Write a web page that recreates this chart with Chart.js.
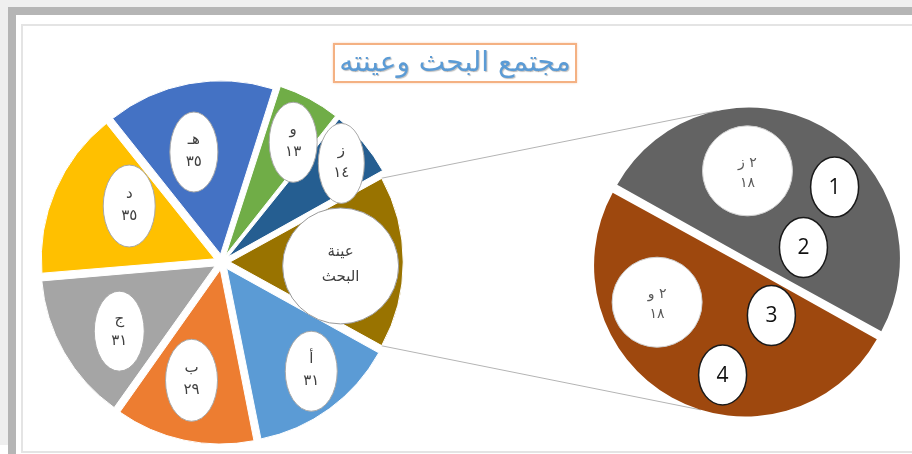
<!DOCTYPE html>
<html lang="ar">
<head>
<meta charset="utf-8">
<script src="https://cdn.jsdelivr.net/npm/chart.js@4.4.0/dist/chart.umd.min.js"></script>
<style>
  html, body { margin:0; padding:0; width:912px; height:454px; overflow:hidden; background:#efefef; position:relative; }
  #frame { position:absolute; left:8px; top:7px; width:904px; height:447px; background:#b5b5b5; }
  #white { position:absolute; left:16px; top:15px; width:896px; height:439px; background:#ffffff; }
  #patch { position:absolute; left:0; top:445px; width:8px; height:9px; background:#ffffff; }
  #area { position:absolute; left:21px; top:24px; width:920px; height:425px; border:2px solid #e4e4e4; background:#fff; }
  #title { position:absolute; left:333px; top:43px; width:240px; height:36px; border:2px solid #f4b183;
           background:#fff; box-shadow:0 0 2px rgba(244,177,131,0.6);
           font-family:"DejaVu Sans", sans-serif; font-size:28px; line-height:34px; text-align:center;
           color:#5b9bd5; direction:rtl; text-shadow:1px 1px 1px rgba(0,0,0,0.25); z-index:5; white-space:nowrap; }
  #leftCanvas { position:absolute; left:21px; top:24px; z-index:2; }
  #rightCanvas { position:absolute; left:577px; top:92px; z-index:3; }
</style>
</head>
<body>
<div id="frame"></div>
<div id="white"></div>
<div id="patch"></div>
<div id="area"></div>
<canvas id="leftCanvas" width="891" height="428"></canvas>
<canvas id="rightCanvas" width="340" height="340"></canvas>
<div id="title">مجتمع البحث وعينته</div>
<script>
// ---------------- DATA ----------------
const categories = ['أ', 'ب', 'ج', 'د', 'هـ', 'و', 'ز'];
const values = [31, 29, 31, 35, 35, 13, 14];
const sampleName = ['عينة', 'البحث'];
const sampleCategories = ['٢ ز', '٢ و'];
const sampleValues = [18, 18];
const markerLabels = ['1', '2', '3', '4'];

// ---------------- STYLE ----------------
const leftColors = ['#5B9BD5', '#ED7D31', '#A5A5A5', '#FFC000', '#4472C4', '#70AD47', '#255E91', '#997300'];
const rightColors = ['#636363', '#9E480E'];
// label placement: angle shift (deg) from slice mid-angle and distance as a fraction of radius
const leftLabelShift = [-3.1, 2.4, -4.2, 7.8, -3.9, 2.6, 0.6, 1.9];
const leftLabelFrac  = [0.82, 0.71, 0.72, 0.63, 0.66, 0.81, 0.90, 0.69];
const leftLabelSize  = [[26, 40], [26, 41], [25, 40], [26, 41], [24, 40], [24, 40], [23, 40], [58, 58]];
const rightLabelShift = [-28.7, 36.9];
const rightLabelFrac  = [0.62, 0.67];
const markerPos = [[0.596, -0.51], [0.384, -0.099], [0.166, 0.364], [-0.166, 0.768]];
const connectorAngles = [258, 107];

const toArabicDigits = n => String(n).replace(/\d/g, d => '٠١٢٣٤٥٦٧٨٩'[+d]);
const sum = a => a.reduce((s, v) => s + v, 0);
const rad = d => d * Math.PI / 180;

function arcGeom(arc) {
  const p = arc.getProps(['x', 'y', 'startAngle', 'endAngle', 'outerRadius', 'circumference'], true);
  const off = (arc.options.offset || 0) / 4;
  const mid = (p.startAngle + p.endAngle) / 2;
  const fix = 1 - Math.sin(Math.min(Math.PI, p.circumference || 0));
  return { x: p.x, y: p.y, R: p.outerRadius, cx: p.x + Math.cos(mid) * off, cy: p.y + Math.sin(mid) * off,
           r: p.outerRadius + off * fix, start: p.startAngle, end: p.endAngle, mid };
}

function ellipseLabel(ctx, x, y, rx, ry, lines, o) {
  ctx.save();
  ctx.beginPath();
  ctx.ellipse(x, y, rx, ry, 0, 0, Math.PI * 2);
  ctx.fillStyle = '#ffffff';
  ctx.fill();
  if (o.borderWidth) {
    ctx.lineWidth = o.borderWidth;
    ctx.strokeStyle = o.borderColor;
    ctx.stroke();
  }
  ctx.fillStyle = o.color;
  ctx.font = o.font;
  ctx.textAlign = 'center';
  ctx.textBaseline = 'middle';
  ctx.direction = 'rtl';
  lines.forEach((t, i) => ctx.fillText(t, x, y + (i - (lines.length - 1) / 2) * o.lineHeight + o.dy));
  ctx.restore();
}

// ---------------- RIGHT PIE (sample) ----------------
const rightLabelPlugin = {
  id: 'rightLabels',
  afterDatasetsDraw(chart) {
    const ctx = chart.ctx;
    const arcs = chart.getDatasetMeta(0).data;
    arcs.forEach((arc, i) => {
      const g = arcGeom(arc);
      const a = g.mid + rad(rightLabelShift[i]);
      const x = g.x + Math.cos(a) * g.R * rightLabelFrac[i];
      const y = g.y + Math.sin(a) * g.R * rightLabelFrac[i];
      ellipseLabel(ctx, x, y, 45, 45, [sampleCategories[i], toArabicDigits(sampleValues[i])],
        { borderWidth: 1, borderColor: '#d0d0d0', color: '#595959', font: '14px "DejaVu Sans"', lineHeight: 20, dy: 2 });
    });
    const g0 = arcGeom(arcs[0]);
    markerLabels.forEach((t, i) => {
      const x = g0.x + markerPos[i][0] * g0.R;
      const y = g0.y + markerPos[i][1] * g0.R;
      ctx.save();
      ctx.beginPath();
      ctx.ellipse(x, y, 24, 30, 0, 0, Math.PI * 2);
      ctx.fillStyle = '#fff';
      ctx.fill();
      ctx.lineWidth = 1.5;
      ctx.strokeStyle = '#1a1a1a';
      ctx.stroke();
      ctx.fillStyle = '#111';
      ctx.font = '21px "Open Sans"';
      ctx.textAlign = 'center';
      ctx.textBaseline = 'middle';
      ctx.fillText(t, x, y + 1);
      ctx.restore();
    });
  }
};

const rightChart = new Chart(document.getElementById('rightCanvas'), {
  type: 'pie',
  data: {
    labels: sampleCategories,
    datasets: [{ data: sampleValues, backgroundColor: rightColors, borderWidth: 0, offset: 16 }]
  },
  options: {
    responsive: false, animation: false, events: [],
    radius: 147, rotation: 299,
    plugins: { legend: { display: false }, title: { display: false }, tooltip: { enabled: false } }
  },
  plugins: [rightLabelPlugin]
});

// ---------------- LEFT PIE (population) ----------------
const leftData = values.concat([sum(sampleValues)]);
const leftLabels = categories.concat([sampleName.join(' ')]);
const grand = sum(leftData);

const leftPlugin = {
  id: 'leftDecor',
  beforeDatasetsDraw(chart) {
    // connector lines to the second pie
    const ctx = chart.ctx;
    const arcs = chart.getDatasetMeta(0).data;
    const s = arcGeom(arcs[arcs.length - 1]);
    const lc = chart.canvas, rc = rightChart.canvas;
    const dx = rc.offsetLeft - lc.offsetLeft, dy = rc.offsetTop - lc.offsetTop;
    const rArcs = rightChart.getDatasetMeta(0).data;
    const top = arcGeom(rArcs[0]), bot = arcGeom(rArcs[1]);
    const p1 = [s.cx + s.r * Math.cos(s.start), s.cy + s.r * Math.sin(s.start)];
    const p2 = [s.cx + s.r * Math.cos(s.end), s.cy + s.r * Math.sin(s.end)];
    const q1 = [dx + top.cx + top.r * Math.cos(rad(connectorAngles[0])), dy + top.cy + top.r * Math.sin(rad(connectorAngles[0]))];
    const q2 = [dx + bot.cx + bot.r * Math.cos(rad(connectorAngles[1])), dy + bot.cy + bot.r * Math.sin(rad(connectorAngles[1]))];
    ctx.save();
    ctx.strokeStyle = '#b4b4b4';
    ctx.lineWidth = 1;
    ctx.beginPath();
    ctx.moveTo(p1[0], p1[1]); ctx.lineTo(q1[0], q1[1]);
    ctx.moveTo(p2[0], p2[1]); ctx.lineTo(q2[0], q2[1]);
    ctx.stroke();
    ctx.restore();
  },
  afterDatasetsDraw(chart) {
    const ctx = chart.ctx;
    const arcs = chart.getDatasetMeta(0).data;
    arcs.forEach((arc, i) => {
      const g = arcGeom(arc);
      const a = g.mid + rad(leftLabelShift[i]);
      const x = g.x + Math.cos(a) * g.R * leftLabelFrac[i];
      const y = g.y + Math.sin(a) * g.R * leftLabelFrac[i];
      const isSample = i === arcs.length - 1;
      const lines = isSample ? sampleName : [categories[i], toArabicDigits(values[i])];
      ellipseLabel(ctx, x, y, leftLabelSize[i][0], leftLabelSize[i][1], lines,
        isSample
          ? { borderWidth: 1, borderColor: '#9a9a9a', color: '#404040', font: '15px "DejaVu Sans"', lineHeight: 25, dy: -1.5 }
          : { borderWidth: 1, borderColor: '#a8a8a8', color: '#404040', font: '15px "DejaVu Sans"', lineHeight: 22, dy: -1 });
    });
  }
};

new Chart(document.getElementById('leftCanvas'), {
  type: 'pie',
  data: {
    labels: leftLabels,
    datasets: [{ data: leftData, backgroundColor: leftColors, borderColor: '#ffffff', borderWidth: 1, offset: 32 }]
  },
  options: {
    responsive: false, animation: false, events: [],
    radius: 172,
    rotation: 90 + sum(sampleValues) / grand * 180,
    layout: { padding: { left: 11, right: 500, top: 48, bottom: 0 } },
    plugins: { legend: { display: false }, title: { display: false }, tooltip: { enabled: false } }
  },
  plugins: [leftPlugin]
});
</script>
</body>
</html>
